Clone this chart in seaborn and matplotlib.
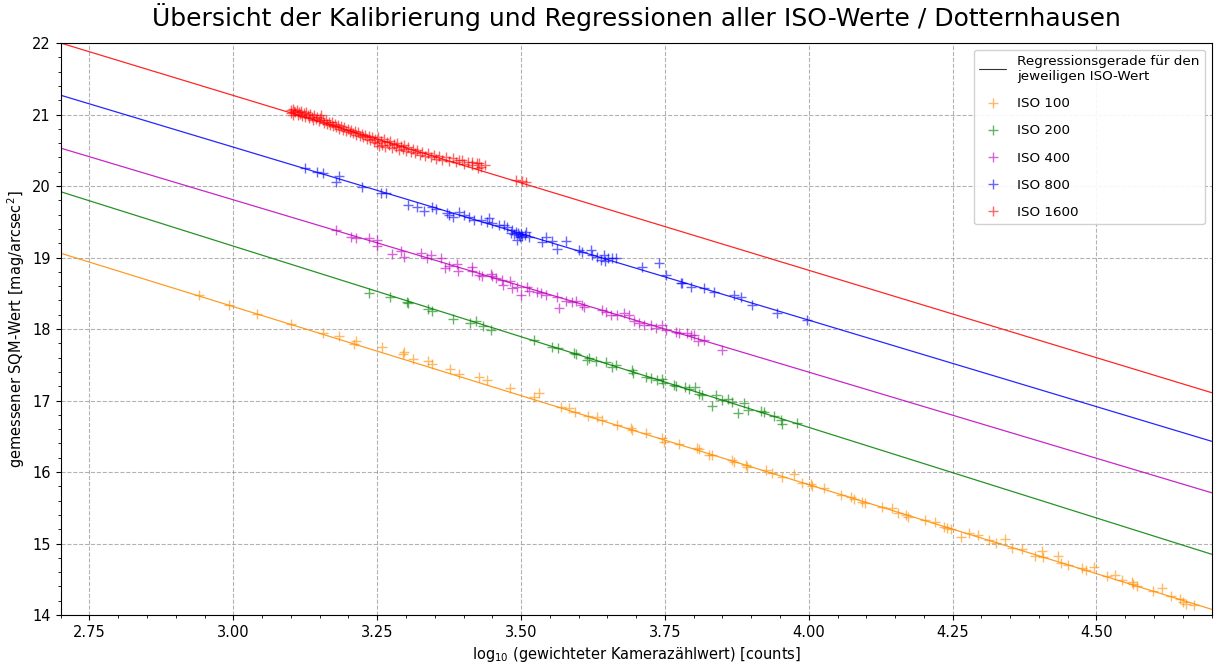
import numpy as np
import pandas as pd
import matplotlib
matplotlib.use("Agg")
import matplotlib.pyplot as plt
from matplotlib.lines import Line2D
from matplotlib.ticker import MultipleLocator
import seaborn as sns

# Messwerte je ISO-Stufe (log10 Zaehlwert, SQM-Wert)
iso100_x = [2.940, 2.993, 3.042, 3.101, 3.155, 3.184, 3.210, 3.214, 3.259, 3.294, 3.297, 3.313,
            3.339, 3.346, 3.377, 3.393, 3.427, 3.440, 3.481, 3.523, 3.532, 3.570, 3.584, 3.594,
            3.617, 3.632, 3.641, 3.667, 3.691, 3.693, 3.717, 3.745, 3.749, 3.775, 3.806, 3.809,
            3.827, 3.832, 3.867, 3.870, 3.891, 3.893, 3.926, 3.936, 3.953, 3.974, 3.988, 4.004,
            4.006, 4.026, 4.056, 4.073, 4.078, 4.092, 4.098, 4.127, 4.144, 4.155, 4.169, 4.172,
            4.202, 4.219, 4.235, 4.240, 4.247, 4.264, 4.278, 4.294, 4.313, 4.325, 4.341, 4.353,
            4.370, 4.394, 4.405, 4.407, 4.433, 4.438, 4.450, 4.474, 4.481, 4.495, 4.518, 4.532,
            4.544, 4.561, 4.563, 4.570, 4.599, 4.613, 4.629, 4.646, 4.651, 4.655, 4.670]
iso100_y = [18.476, 18.336, 18.210, 18.070, 17.944, 17.902, 17.790, 17.832, 17.748, 17.650, 17.678, 17.580,
            17.552, 17.510, 17.441, 17.371, 17.329, 17.287, 17.175, 17.049, 17.105, 16.909, 16.895, 16.839,
            16.783, 16.769, 16.727, 16.657, 16.615, 16.587, 16.545, 16.476, 16.420, 16.392, 16.336, 16.322,
            16.238, 16.238, 16.168, 16.140, 16.098, 16.070, 16.028, 15.986, 15.930, 15.972, 15.846, 15.832,
            15.804, 15.776, 15.678, 15.650, 15.622, 15.580, 15.566, 15.510, 15.496, 15.427, 15.399, 15.371,
            15.329, 15.301, 15.231, 15.217, 15.203, 15.091, 15.147, 15.119, 15.049, 15.007, 15.063, 14.937,
            14.923, 14.825, 14.895, 14.811, 14.825, 14.727, 14.699, 14.657, 14.629, 14.671, 14.545, 14.559,
            14.490, 14.462, 14.434, 14.406, 14.336, 14.378, 14.266, 14.224, 14.182, 14.154, 14.140]

iso200_x = [3.236, 3.273, 3.301, 3.303, 3.339, 3.346, 3.381, 3.412, 3.422, 3.434, 3.448, 3.523,
            3.554, 3.565, 3.592, 3.596, 3.615, 3.618, 3.631, 3.648, 3.658, 3.665, 3.693, 3.695,
            3.717, 3.726, 3.736, 3.745, 3.747, 3.766, 3.769, 3.785, 3.792, 3.802, 3.809, 3.815,
            3.832, 3.839, 3.849, 3.860, 3.867, 3.877, 3.888, 3.894, 3.917, 3.922, 3.940, 3.952,
            3.953, 3.980]
iso200_y = [18.503, 18.448, 18.378, 18.364, 18.280, 18.252, 18.140, 18.084, 18.112, 18.042, 17.986, 17.846,
            17.748, 17.734, 17.664, 17.650, 17.566, 17.594, 17.552, 17.538, 17.469, 17.497, 17.427, 17.385,
            17.329, 17.315, 17.287, 17.301, 17.245, 17.217, 17.203, 17.189, 17.161, 17.189, 17.091, 17.077,
            16.923, 17.077, 17.007, 17.021, 16.979, 16.825, 16.965, 16.867, 16.853, 16.839, 16.783, 16.727,
            16.671, 16.685]

iso400_x = [3.179, 3.205, 3.214, 3.235, 3.250, 3.249, 3.275, 3.292, 3.297, 3.327, 3.337, 3.344,
            3.361, 3.368, 3.375, 3.388, 3.390, 3.414, 3.415, 3.427, 3.433, 3.448, 3.450, 3.457,
            3.467, 3.469, 3.480, 3.485, 3.493, 3.500, 3.511, 3.514, 3.528, 3.535, 3.544, 3.563,
            3.566, 3.578, 3.589, 3.596, 3.606, 3.610, 3.641, 3.648, 3.657, 3.667, 3.679, 3.688,
            3.697, 3.705, 3.714, 3.726, 3.735, 3.745, 3.752, 3.769, 3.775, 3.789, 3.795, 3.801,
            3.808, 3.818, 3.849]
iso400_y = [19.385, 19.287, 19.273, 19.273, 19.245, 19.161, 19.049, 19.091, 19.007, 19.063, 18.993, 19.035,
            18.993, 18.853, 18.881, 18.909, 18.811, 18.867, 18.811, 18.755, 18.741, 18.769, 18.741, 18.713,
            18.685, 18.615, 18.671, 18.573, 18.587, 18.476, 18.587, 18.531, 18.517, 18.503, 18.476, 18.448,
            18.294, 18.392, 18.378, 18.392, 18.336, 18.308, 18.266, 18.238, 18.196, 18.196, 18.224, 18.196,
            18.112, 18.084, 18.056, 18.056, 18.014, 18.056, 17.986, 17.958, 17.944, 17.944, 17.916, 17.916,
            17.832, 17.846, 17.706]

iso800_x = [3.124, 3.146, 3.155, 3.179, 3.184, 3.223, 3.257, 3.266, 3.304, 3.320, 3.332, 3.346,
            3.353, 3.372, 3.375, 3.381, 3.393, 3.401, 3.410, 3.419, 3.431, 3.440, 3.445, 3.450,
            3.462, 3.471, 3.476, 3.483, 3.485, 3.488, 3.492, 3.493, 3.495, 3.497, 3.499, 3.500,
            3.502, 3.506, 3.509, 3.514, 3.537, 3.544, 3.554, 3.563, 3.578, 3.601, 3.606, 3.622,
            3.624, 3.632, 3.639, 3.644, 3.646, 3.651, 3.658, 3.665, 3.710, 3.740, 3.752, 3.778,
            3.780, 3.795, 3.818, 3.835, 3.870, 3.882, 3.901, 3.945, 3.997]
iso800_y = [20.252, 20.196, 20.182, 20.056, 20.140, 19.986, 19.902, 19.902, 19.734, 19.706, 19.650, 19.706,
            19.678, 19.622, 19.594, 19.566, 19.636, 19.594, 19.566, 19.524, 19.524, 19.496, 19.552, 19.483,
            19.455, 19.455, 19.427, 19.343, 19.385, 19.329, 19.357, 19.245, 19.343, 19.315, 19.287, 19.329,
            19.301, 19.315, 19.357, 19.287, 19.217, 19.287, 19.231, 19.119, 19.231, 19.105, 19.077, 19.105,
            19.035, 19.007, 18.965, 19.035, 18.951, 18.993, 18.993, 18.993, 18.867, 18.923, 18.755, 18.643,
            18.643, 18.587, 18.573, 18.517, 18.476, 18.448, 18.336, 18.224, 18.126]

iso1600_x = [3.100, 3.101, 3.103, 3.104, 3.106, 3.108, 3.110, 3.112, 3.114, 3.116, 3.118, 3.120,
             3.123, 3.125, 3.127, 3.130, 3.132, 3.134, 3.137, 3.139, 3.141, 3.144, 3.146, 3.149,
             3.151, 3.153, 3.156, 3.158, 3.161, 3.163, 3.166, 3.168, 3.171, 3.174, 3.176, 3.179,
             3.182, 3.184, 3.187, 3.190, 3.193, 3.196, 3.199, 3.202, 3.205, 3.208, 3.211, 3.214,
             3.217, 3.220, 3.223, 3.226, 3.229, 3.232, 3.235, 3.238, 3.241, 3.244, 3.247, 3.250,
             3.252, 3.254, 3.256, 3.259, 3.261, 3.264, 3.267, 3.270, 3.273, 3.276, 3.279, 3.282,
             3.285, 3.288, 3.291, 3.294, 3.297, 3.300, 3.304, 3.308, 3.312, 3.316, 3.320, 3.324,
             3.328, 3.333, 3.338, 3.343, 3.348, 3.353, 3.358, 3.363, 3.369, 3.375, 3.381, 3.387,
             3.393, 3.398, 3.400, 3.408, 3.414, 3.415, 3.423, 3.426, 3.427, 3.430, 3.437, 3.492,
             3.502, 3.509]
iso1600_y = [21.06, 21.02, 21.08, 21.00, 21.05, 21.03, 21.07, 20.99, 21.04, 21.01, 21.05, 20.98,
             21.02, 20.97, 21.04, 20.99, 20.95, 21.01, 20.96, 20.93, 20.99, 20.94, 20.97, 20.91,
             20.95, 21.00, 20.92, 20.88, 20.93, 20.87, 20.90, 20.85, 20.89, 20.84, 20.87, 20.82,
             20.86, 20.80, 20.84, 20.79, 20.82, 20.77, 20.80, 20.75, 20.79, 20.74, 20.77, 20.71,
             20.75, 20.70, 20.73, 20.68, 20.72, 20.66, 20.70, 20.64, 20.68, 20.62, 20.66, 20.60,
             20.68, 20.56, 20.63, 20.58, 20.66, 20.55, 20.61, 20.57, 20.63, 20.53, 20.59, 20.55,
             20.60, 20.51, 20.56, 20.52, 20.57, 20.49, 20.54, 20.48, 20.52, 20.46, 20.50, 20.44,
             20.48, 20.42, 20.46, 20.40, 20.44, 20.38, 20.42, 20.36, 20.41, 20.35, 20.39, 20.33,
             20.37, 20.36, 20.31, 20.34, 20.34, 20.29, 20.32, 20.25, 20.32, 20.27, 20.30, 20.08,
             20.07, 20.06]

# Regressionsgeraden: Wert bei x = 2.7 und Steigung
iso_labels = ["ISO 100", "ISO 200", "ISO 400", "ISO 800", "ISO 1600"]
fit_start = [19.06, 19.92, 20.53, 21.27, 22.00]
fit_slope = [-2.49, -2.535, -2.41, -2.42, -2.445]
x_limits = [2.7, 4.7]

colors = ["darkorange", "green", "m", "b", "r"]

series = [(iso100_x, iso100_y), (iso200_x, iso200_y), (iso400_x, iso400_y),
          (iso800_x, iso800_y), (iso1600_x, iso1600_y)]

sns.set_style("ticks")
plt.rcParams['font.family'] = ['DejaVu Sans']
plt.rcParams.update({"text.color": "black", "axes.labelcolor": "black",
                     "xtick.color": "black", "ytick.color": "black",
                     "axes.edgecolor": "black"})

fig = plt.figure(figsize=(12.14, 6.62), dpi=100)
ax = fig.add_axes([0.050, 0.071, 0.948, 0.864])

handles = [Line2D([], [], color="k", lw=0.8, alpha=0.8)]
labels = ["Regressionsgerade für den\njeweiligen ISO-Wert"]

for (xs, ys), lab, col, y0, k in zip(series, iso_labels, colors, fit_start, fit_slope):
    df = pd.DataFrame({"x": xs, "y": ys})
    sns.scatterplot(data=df, x="x", y="y", marker="+", color=col, s=60,
                    linewidth=1.0, alpha=0.6, ax=ax, legend=False)
    xl = np.array(x_limits)
    line_df = pd.DataFrame({"x": xl, "y": y0 + k * (xl - x_limits[0])})
    sns.lineplot(data=line_df, x="x", y="y", color=col, lw=0.9, alpha=0.85, ax=ax)
    handles.append(Line2D([], [], color=col, marker="+", ls="none", markersize=7, alpha=0.6))
    labels.append(lab)

ax.set_xlim(*x_limits)
ax.set_ylim(14, 22)
ax.xaxis.set_major_locator(MultipleLocator(0.25))
ax.xaxis.set_minor_locator(MultipleLocator(0.05))
ax.yaxis.set_major_locator(MultipleLocator(1))
ax.yaxis.set_minor_locator(MultipleLocator(0.2))
ax.grid(True, which="major", linestyle="--", color="gray", alpha=0.6, lw=0.8)
for sp in ax.spines.values():
    sp.set_visible(True)
    sp.set_color("black")
ax.tick_params(labelsize=10.5, colors="black")

ax.set_xlabel(r"log$_{10}$ (gewichteter Kamerazählwert) [counts]", fontsize=10.5)
ax.set_ylabel(r"gemessener SQM-Wert [mag/arcsec$^2$]", fontsize=10.5)
ax.set_title("Übersicht der Kalibrierung und Regressionen aller ISO-Werte / Dotternhausen",
             fontsize=18, pad=12)

ax.legend(handles, labels, loc="upper right", fontsize=9.7, framealpha=0.9,
          labelspacing=1.05)

fig.savefig("out.png", dpi=100)
